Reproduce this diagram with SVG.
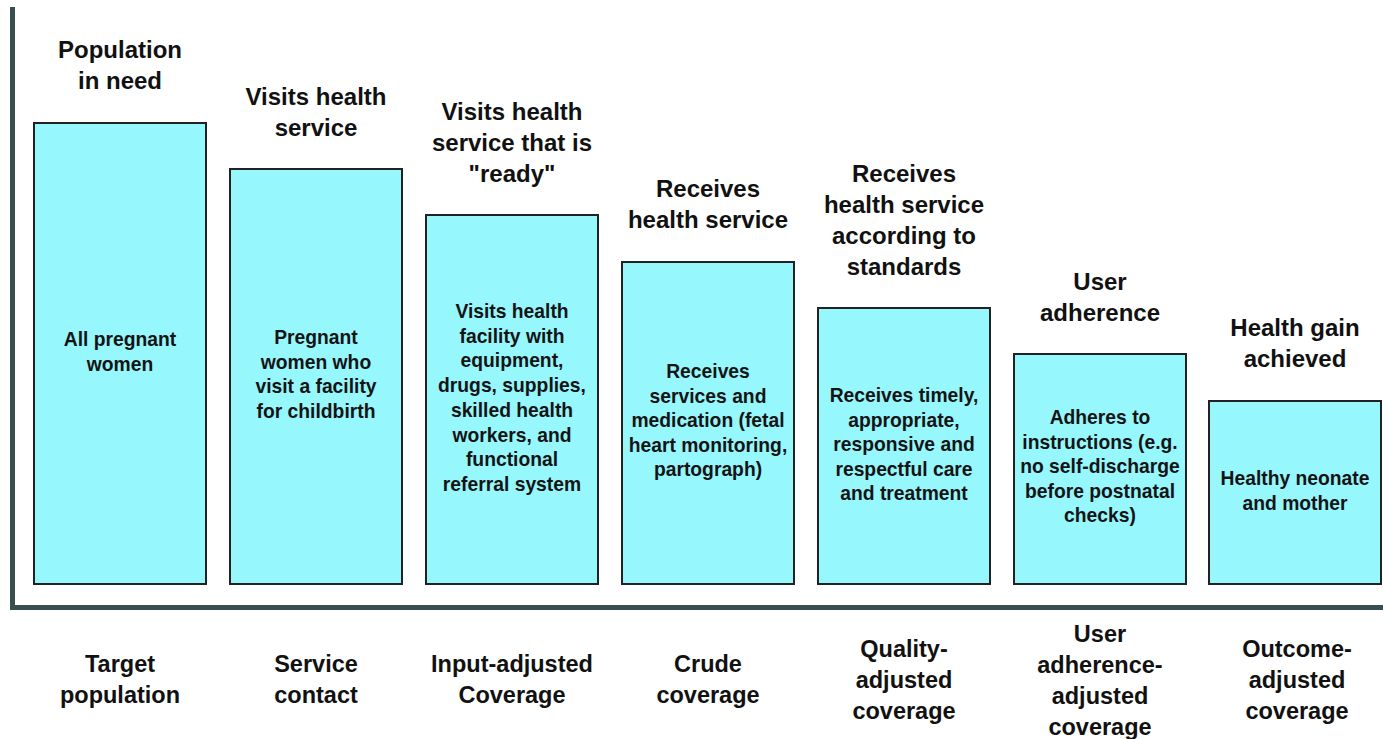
<svg xmlns="http://www.w3.org/2000/svg" width="1383" height="739" viewBox="0 0 1383 739">
  <style>
    .bar { fill: #96f7fd; stroke: #222; stroke-width: 2; }
    .axis { fill: none; stroke: #37504f; stroke-width: 5; }
    text { font-family: "Liberation Sans", Arial, sans-serif; font-weight: bold; text-anchor: middle; }
    .head { font-size: 24px; fill: #111; }
    .inner { font-size: 19.3px; fill: #141414; }
    .foot { font-size: 23.5px; fill: #111; }
  </style>
  <rect width="1383" height="739" fill="#fff"/>

  <!-- axes -->
  <g id="axes">
    <path class="axis" d="M12.5,7 V607.5 H1383"/>
  </g>

  <!-- columns: heading, bar with description, coverage label -->
  <g id="col-target">
    <text class="head" x="120" y="58"><tspan x="120">Population</tspan><tspan x="120" dy="31">in need</tspan></text>
    <rect class="bar" x="34" y="123" width="172" height="461"/>
    <text class="inner" x="120" y="346"><tspan x="120">All pregnant</tspan><tspan x="120" dy="24.6">women</tspan></text>
    <text class="foot" x="120" y="672"><tspan x="120">Target</tspan><tspan x="120" dy="31">population</tspan></text>
  </g>

  <g id="col-contact">
    <text class="head" x="316" y="105"><tspan x="316">Visits health</tspan><tspan x="316" dy="31">service</tspan></text>
    <rect class="bar" x="230" y="169" width="172" height="415"/>
    <text class="inner" x="316" y="344"><tspan x="316">Pregnant</tspan><tspan x="316" dy="24.6">women who</tspan><tspan x="316" dy="24.6">visit a facility</tspan><tspan x="316" dy="24.6">for childbirth</tspan></text>
    <text class="foot" x="316" y="672"><tspan x="316">Service</tspan><tspan x="316" dy="31">contact</tspan></text>
  </g>

  <g id="col-input">
    <text class="head" x="512" y="120"><tspan x="512">Visits health</tspan><tspan x="512" dy="31">service that is</tspan><tspan x="512" dy="31">"ready"</tspan></text>
    <rect class="bar" x="426" y="215" width="172" height="369"/>
    <text class="inner" x="512" y="318"><tspan x="512">Visits health</tspan><tspan x="512" dy="24.7">facility with</tspan><tspan x="512" dy="24.7">equipment,</tspan><tspan x="512" dy="24.7">drugs, supplies,</tspan><tspan x="512" dy="24.7">skilled health</tspan><tspan x="512" dy="24.7">workers, and</tspan><tspan x="512" dy="24.7">functional</tspan><tspan x="512" dy="24.7">referral system</tspan></text>
    <text class="foot" x="512" y="672"><tspan x="512">Input-adjusted</tspan><tspan x="512" dy="31">Coverage</tspan></text>
  </g>

  <g id="col-crude">
    <text class="head" x="708" y="197"><tspan x="708">Receives</tspan><tspan x="708" dy="31">health service</tspan></text>
    <rect class="bar" x="622" y="262" width="172" height="322"/>
    <text class="inner" x="708" y="378"><tspan x="708">Receives</tspan><tspan x="708" dy="24.6">services and</tspan><tspan x="708" dy="24.6">medication (fetal</tspan><tspan x="708" dy="24.6">heart monitoring,</tspan><tspan x="708" dy="24.6">partograph)</tspan></text>
    <text class="foot" x="708" y="672"><tspan x="708">Crude</tspan><tspan x="708" dy="31">coverage</tspan></text>
  </g>

  <g id="col-quality">
    <text class="head" x="904" y="182"><tspan x="904">Receives</tspan><tspan x="904" dy="31">health service</tspan><tspan x="904" dy="31">according to</tspan><tspan x="904" dy="31">standards</tspan></text>
    <rect class="bar" x="818" y="308" width="172" height="276"/>
    <text class="inner" x="904" y="402"><tspan x="904">Receives timely,</tspan><tspan x="904" dy="24.6">appropriate,</tspan><tspan x="904" dy="24.6">responsive and</tspan><tspan x="904" dy="24.6">respectful care</tspan><tspan x="904" dy="24.6">and treatment</tspan></text>
    <text class="foot" x="904" y="657"><tspan x="904">Quality-</tspan><tspan x="904" dy="31">adjusted</tspan><tspan x="904" dy="31">coverage</tspan></text>
  </g>

  <g id="col-adherence">
    <text class="head" x="1100" y="290"><tspan x="1100">User</tspan><tspan x="1100" dy="31">adherence</tspan></text>
    <rect class="bar" x="1014" y="354" width="172" height="230"/>
    <text class="inner" x="1100" y="424"><tspan x="1100">Adheres to</tspan><tspan x="1100" dy="24.6">instructions (e.g.</tspan><tspan x="1100" dy="24.6">no self-discharge</tspan><tspan x="1100" dy="24.6">before postnatal</tspan><tspan x="1100" dy="24.6">checks)</tspan></text>
    <text class="foot" x="1100" y="642"><tspan x="1100">User</tspan><tspan x="1100" dy="31">adherence-</tspan><tspan x="1100" dy="31">adjusted</tspan><tspan x="1100" dy="31">coverage</tspan></text>
  </g>

  <g id="col-outcome">
    <text class="head" x="1295" y="336"><tspan x="1295">Health gain</tspan><tspan x="1295" dy="31">achieved</tspan></text>
    <rect class="bar" x="1209" y="401" width="172" height="183"/>
    <text class="inner" x="1295" y="485"><tspan x="1295">Healthy neonate</tspan><tspan x="1295" dy="24.6">and mother</tspan></text>
    <text class="foot" x="1297" y="657"><tspan x="1297">Outcome-</tspan><tspan x="1297" dy="31">adjusted</tspan><tspan x="1297" dy="31">coverage</tspan></text>
  </g>
</svg>
